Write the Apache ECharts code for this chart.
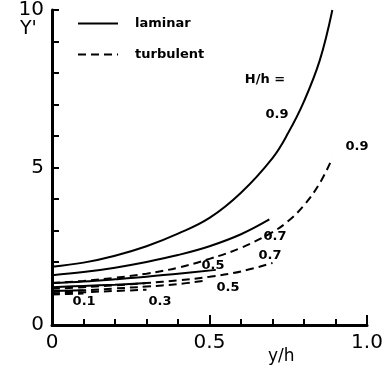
<!DOCTYPE html>
<html>
<head>
<meta charset="utf-8">
<script src="https://cdn.jsdelivr.net/npm/echarts@6/dist/echarts.min.js"></script>
<style>
    html, body { margin: 0; padding: 0; background: #fff; }
    #chart { width: 388px; height: 369px; }
</style>
</head>
<body>
<div id="chart"></div>
<script>
    // laminar curves (solid), y/h -> Y'
    var lam09X = [0, 0.1, 0.2, 0.3, 0.4, 0.5, 0.6, 0.7, 0.75, 0.8, 0.85, 0.89];
    var lam09Y = [1.85, 1.98, 2.2, 2.5, 2.9, 3.4, 4.2, 5.3, 6.1, 7.1, 8.4, 10.0];
    var lam07X = [0, 0.1, 0.2, 0.3, 0.4, 0.5, 0.6, 0.69];
    var lam07Y = [1.58, 1.68, 1.82, 2.0, 2.22, 2.5, 2.88, 3.35];
    var lam05X = [0, 0.1, 0.2, 0.3, 0.4, 0.52];
    var lam05Y = [1.33, 1.38, 1.45, 1.53, 1.63, 1.75];
    var lam03X = [0, 0.1, 0.2, 0.3];
    var lam03Y = [1.2, 1.24, 1.28, 1.33];
    var lam01X = [0, 0.1];
    var lam01Y = [1.08, 1.1];

    // turbulent curves (dashed)
    var turb09X = [0, 0.1, 0.2, 0.3, 0.4, 0.5, 0.6, 0.7, 0.75, 0.8, 0.85, 0.89];
    var turb09Y = [1.33, 1.4, 1.5, 1.63, 1.82, 2.1, 2.45, 2.95, 3.3, 3.8, 4.5, 5.3];
    var turb07X = [0, 0.1, 0.2, 0.3, 0.4, 0.5, 0.6, 0.7];
    var turb07Y = [1.15, 1.2, 1.26, 1.33, 1.42, 1.53, 1.7, 1.97];
    var turb05X = [0, 0.1, 0.2, 0.3, 0.4, 0.48];
    var turb05Y = [1.05, 1.1, 1.16, 1.22, 1.3, 1.4];
    var turb03X = [0, 0.1, 0.2, 0.3];
    var turb03Y = [1.0, 1.04, 1.08, 1.12];
    var turb01X = [0, 0.1];
    var turb01Y = [0.97, 1.0];

    // curve annotations: [y/h, Y', text]
    var notes = [
        [0.676, 7.78, 'H/h ='],
        [0.714, 6.67, '0.9'],
        [0.968, 5.65, '0.9'],
        [0.708, 2.8, '0.7'],
        [0.692, 2.19, '0.7'],
        [0.511, 1.87, '0.5'],
        [0.559, 1.2, '0.5'],
        [0.102, 0.73, '0.1'],
        [0.343, 0.73, '0.3']
    ];

    var xTicks = [0, 0.5, 1.0];
    var yTicks = [0, 5, 10];

    var font = 'DejaVu Sans';

    var zip = function (xs, ys) {
        return xs.map(function (x, i) { return [x, ys[i]]; });
    };

    var curve = function (name, xs, ys, dashed) {
        return {
            name: name,
            type: 'line',
            smooth: 0.4,
            symbol: 'none',
            silent: true,
            lineStyle: {
                color: '#000',
                width: 2,
                type: dashed ? [8, 5] : 'solid'
            },
            itemStyle: { color: '#000' },
            data: zip(xs, ys)
        };
    };

    var chart = echarts.init(document.getElementById('chart'));

    var option = {
        animation: false,
        backgroundColor: '#fff',
        grid: {
            left: 52,
            right: 21,
            top: 10,
            bottom: 44,
            outerBoundsMode: 'none'
        },
        legend: {
            orient: 'vertical',
            left: 72,
            top: 12,
            itemWidth: 40,
            itemHeight: 10,
            itemGap: 18,
            data: ['laminar', 'turbulent'],
            itemStyle: { opacity: 0 },
            textStyle: {
                fontFamily: font,
                fontSize: 13,
                fontWeight: 'bold',
                color: '#000',
                padding: [0, 0, 0, 12]
            }
        },
        // axis titles
        graphic: [
            {
                type: 'text',
                left: 20,
                top: 20,
                silent: true,
                style: {
                    text: "Y'",
                    fontFamily: font,
                    fontSize: 19,
                    fill: '#000'
                }
            },
            {
                type: 'text',
                left: 268,
                top: 348,
                silent: true,
                style: {
                    text: 'y/h',
                    fontFamily: font,
                    fontSize: 17,
                    fill: '#000'
                }
            }
        ],
        xAxis: [
            {
                type: 'value',
                min: 0,
                max: 1.0,
                interval: 0.1,
                splitLine: { show: false },
                axisLine: { lineStyle: { color: '#000', width: 3 } },
                axisTick: { inside: true, length: 6, lineStyle: { color: '#000', width: 2 } },
                axisLabel: {
                    margin: 8,
                    fontFamily: font,
                    fontSize: 20,
                    color: '#000',
                    formatter: function (v) {
                        var hit = xTicks.filter(function (t) { return Math.abs(t - v) < 1e-6; });
                        if (!hit.length) return '';
                        return v === 0 ? '0' : v.toFixed(1);
                    }
                }
            },
            {
                type: 'value',
                min: 0,
                max: 1.0,
                interval: 0.5,
                position: 'bottom',
                splitLine: { show: false },
                axisLine: { show: false },
                axisLabel: { show: false },
                axisTick: { inside: true, length: 10, lineStyle: { color: '#000', width: 2 } }
            }
        ],
        yAxis: {
            type: 'value',
            min: 0,
            max: 10,
            interval: 1,
            splitLine: { show: false },
            axisLine: { lineStyle: { color: '#000', width: 3 } },
            axisTick: { inside: true, length: 7, lineStyle: { color: '#000', width: 2 } },
            axisLabel: {
                margin: 8,
                fontFamily: font,
                fontSize: 20,
                color: '#000',
                formatter: function (v) {
                    return yTicks.indexOf(v) >= 0 ? String(v) : '';
                }
            }
        },
        series: [
            curve('laminar', lam09X, lam09Y, false),
            curve('laminar', lam07X, lam07Y, false),
            curve('laminar', lam05X, lam05Y, false),
            curve('laminar', lam03X, lam03Y, false),
            curve('laminar', lam01X, lam01Y, false),
            curve('turbulent', turb09X, turb09Y, true),
            curve('turbulent', turb07X, turb07Y, true),
            curve('turbulent', turb05X, turb05Y, true),
            curve('turbulent', turb03X, turb03Y, true),
            curve('turbulent', turb01X, turb01Y, true),
            {
                name: 'notes',
                type: 'scatter',
                symbolSize: 0,
                silent: true,
                itemStyle: { opacity: 1 },
                data: notes.map(function (n) { return { value: [n[0], n[1]], text: n[2] }; }),
                label: {
                    show: true,
                    position: 'inside',
                    fontFamily: font,
                    fontSize: 13,
                    fontWeight: 'bold',
                    color: '#000',
                    opacity: 1,
                    formatter: function (p) { return p.data.text; }
                }
            }
        ]
    };

    chart.setOption(option);
</script>
</body>
</html>
